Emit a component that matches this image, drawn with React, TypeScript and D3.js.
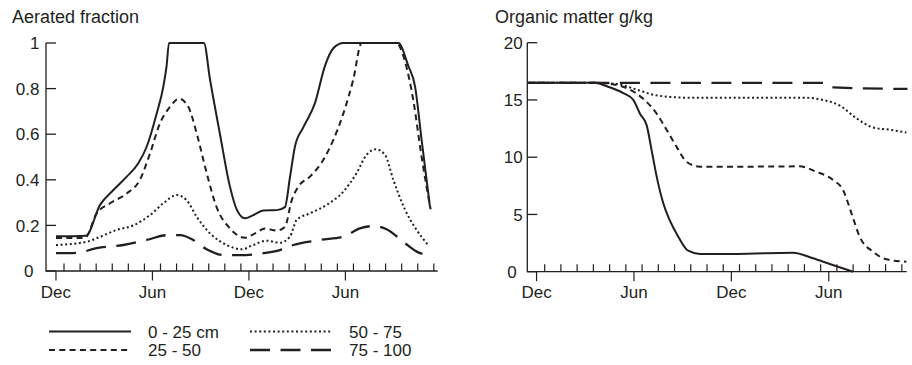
import React from "react";
import * as d3 from "d3";

// Months counted from the first December (0 = Dec, 6 = Jun, 12 = Dec, 18 = Jun)
const monthTicks = [0, 6, 12, 18];
const monthLabels = ["Dec", "Jun", "Dec", "Jun"];

// Aerated fraction by soil layer: [month, fraction]
const aer0to25: [number, number][] = [
  [0, 0.152], [1.87, 0.155], [2.74, 0.29], [3.57, 0.355], [4.4, 0.414], [5.1, 0.47],
  [5.64, 0.545], [6.26, 0.69], [6.68, 0.81], [6.88, 0.9], [7.03, 1.0], [9.2, 1.0],
  [9.58, 0.84], [10.2, 0.6], [10.82, 0.37], [11.24, 0.27], [11.75, 0.231], [12.27, 0.245],
  [12.9, 0.265], [13.73, 0.267], [14.24, 0.28], [14.55, 0.41], [14.86, 0.545], [15.38, 0.63],
  [16.1, 0.735], [16.73, 0.9], [17.25, 0.977], [17.87, 1.0], [21.29, 1.0], [21.91, 0.9],
  [22.33, 0.81], [22.74, 0.575], [23.26, 0.28],
];
const aer25to50: [number, number][] = [
  [0, 0.145], [1.8, 0.145], [2.53, 0.253], [3.36, 0.297], [4.4, 0.34], [5.22, 0.4],
  [5.85, 0.516], [6.47, 0.648], [7.09, 0.72], [7.65, 0.756], [8.23, 0.72], [8.75, 0.604],
  [9.37, 0.43], [9.99, 0.28], [10.82, 0.187], [11.75, 0.146], [12.38, 0.165], [13.0, 0.186],
  [13.73, 0.177], [14.24, 0.194], [14.66, 0.31], [15.07, 0.37], [15.8, 0.414], [16.62, 0.487],
  [17.25, 0.575], [17.87, 0.69], [18.49, 0.84], [19.01, 1.0], [21.18, 1.0], [21.7, 0.92],
  [22.22, 0.75], [22.74, 0.5], [23.3, 0.27],
];
const aer50to75: [number, number][] = [
  [0, 0.114], [1.9, 0.128], [2.74, 0.15], [3.77, 0.18], [4.81, 0.2], [5.85, 0.245],
  [6.68, 0.297], [7.51, 0.333], [8.13, 0.31], [8.75, 0.238], [9.58, 0.165], [10.62, 0.114],
  [11.55, 0.095], [12.27, 0.114], [13.1, 0.133], [13.93, 0.124], [14.55, 0.15], [14.97, 0.224],
  [15.8, 0.253], [16.83, 0.29], [17.87, 0.348], [18.7, 0.43], [19.32, 0.51], [19.9, 0.534],
  [20.46, 0.51], [20.98, 0.4], [21.7, 0.27], [22.43, 0.18], [23.15, 0.114],
];
const aer75to100: [number, number][] = [
  [0, 0.078], [1.29, 0.08], [2.53, 0.1], [4.19, 0.114], [5.64, 0.136], [6.88, 0.157],
  [7.71, 0.157], [8.54, 0.136], [9.37, 0.095], [10.4, 0.07], [11.44, 0.07], [12.9, 0.078],
  [13.93, 0.092], [14.76, 0.114], [16.42, 0.136], [17.87, 0.15], [18.9, 0.187], [19.73, 0.197],
  [20.56, 0.183], [21.6, 0.128], [22.43, 0.085], [23.15, 0.07],
];

// Organic matter (g/kg) by soil layer: [month, value]
const om0to25: [number, number][] = [
  [-0.5, 16.5], [3.5, 16.5], [4.52, 16.1], [5.34, 15.6], [5.96, 15.0], [6.37, 13.8],
  [6.78, 12.8], [7.09, 10.6], [7.4, 8.3], [7.8, 6.0], [8.2, 4.5], [8.73, 3.06],
  [9.34, 1.83], [10.06, 1.55], [12.3, 1.55], [15.8, 1.66], [17.03, 1.17], [18.06, 0.67],
  [19.5, 0],
];
const om25to50: [number, number][] = [
  [-0.5, 16.5], [3.5, 16.5], [4.52, 16.4], [5.75, 15.9], [6.57, 15.1], [7.4, 13.8],
  [8.01, 12.4], [8.63, 10.9], [9.24, 9.6], [10.06, 9.17], [12.3, 9.17], [16.2, 9.2],
  [17.24, 8.73], [18.27, 8.0], [18.88, 7.13], [19.4, 5.1], [19.9, 3.06], [20.72, 1.75],
  [21.55, 1.08], [22.78, 0.87],
];
const om50to75: [number, number][] = [
  [-0.5, 16.5], [3.5, 16.5], [4.93, 16.4], [6.17, 15.9], [7.4, 15.4], [9.24, 15.2],
  [16.42, 15.2], [17.65, 15.0], [18.68, 14.5], [19.7, 13.4], [20.72, 12.6], [21.75, 12.4],
  [22.78, 12.15],
];
const om75to100: [number, number][] = [
  [-0.5, 16.5], [17.65, 16.5], [18.27, 16.1], [22.85, 15.96],
];

const aeratedTicks = [0, 0.2, 0.4, 0.6, 0.8, 1];
const aeratedTickLabels = ["0", "0.2", "0.4", "0.6", "0.8", "1"];
const organicTicks = [0, 5, 10, 15, 20];
const organicTickLabels = ["0", "5", "10", "15", "20"];

const layerLabels = ["0 - 25 cm", "25 - 50", "50 - 75", "75 - 100"];

const INK = "#231f20";
const FONT = "'Liberation Sans', Arial, Helvetica, sans-serif";
const dashes = ["none", "6,4.3", "2,2.6", "20,10.5"];

type Series = [number, number][];

interface PanelProps {
  title: string;
  titleX: number;
  x0: number;
  x1: number;
  xDomain: [number, number];
  yTop: number;
  yBottom: number;
  yMax: number;
  yTicks: number[];
  yTickLabels: string[];
  labelEnd: number;
  series: Series[];
}

function Panel(p: PanelProps) {
  const x = d3.scaleLinear().domain(p.xDomain).range([p.x0, p.x1]);
  const y = d3.scaleLinear().domain([0, p.yMax]).range([p.yBottom, p.yTop]);
  const line = d3
    .line<[number, number]>()
    .x((d) => x(d[0]))
    .y((d) => y(d[1]))
    .curve(d3.curveMonotoneX);
  const minor = d3.range(0.5, p.xDomain[1], 1);
  return (
    <g>
      <text x={p.titleX} y={22.5} fontSize={18} fill={INK}>
        {p.title}
      </text>
      {p.series.map((s, i) => (
        <path
          key={i}
          d={line(s) || ""}
          fill="none"
          stroke={INK}
          strokeWidth={i === 3 ? 2.3 : 2}
          strokeDasharray={dashes[i]}
        />
      ))}
      {/* axes */}
      <path
        d={`M${p.x0},${y(p.yMax)}V${p.yBottom}H${p.x1}`}
        fill="none"
        stroke={INK}
        strokeWidth={1.3}
      />
      {p.yTicks.map((t, i) => (
        <g key={t}>
          <line x1={p.x0} x2={p.x0 + 10} y1={y(t)} y2={y(t)} stroke={INK} strokeWidth={1.3} />
          <text
            x={t === 0 ? p.labelEnd - 6 : p.labelEnd}
            y={y(t)}
            dy="0.36em"
            textAnchor="end"
            fontSize={17}
            fill={INK}
          >
            {p.yTickLabels[i]}
          </text>
        </g>
      ))}
      {minor.map((m) => (
        <line key={m} x1={x(m)} x2={x(m)} y1={p.yBottom} y2={p.yBottom - 7.5} stroke={INK} strokeWidth={1.2} />
      ))}
      {monthTicks.map((m, i) => (
        <g key={m}>
          <line x1={x(m)} x2={x(m)} y1={p.yBottom} y2={p.yBottom + 9.5} stroke={INK} strokeWidth={1.2} />
          <text x={x(m)} y={298} textAnchor="middle" fontSize={17} fill={INK}>
            {monthLabels[i]}
          </text>
        </g>
      ))}
    </g>
  );
}

export default function App() {
  const legendPos = [
    { x: 49, y: 331.5 },
    { x: 49, y: 350 },
    { x: 250, y: 331.5 },
    { x: 250, y: 350 },
  ];
  return (
    <svg
      width={912}
      height={365}
      style={{ position: "absolute", left: 0, top: 0, background: "#fff" }}
      fontFamily={FONT}
    >
      <Panel
        title="Aerated fraction"
        titleX={12}
        x0={46}
        x1={437.7}
        xDomain={[-0.62, 23.74]}
        yTop={43}
        yBottom={271}
        yMax={1}
        yTicks={aeratedTicks}
        yTickLabels={aeratedTickLabels}
        labelEnd={39.5}
        series={[aer0to25, aer25to50, aer50to75, aer75to100]}
      />
      <Panel
        title="Organic matter g/kg"
        titleX={495}
        x0={527.3}
        x1={906.7}
        xDomain={[-0.57, 22.8]}
        yTop={42.7}
        yBottom={271.7}
        yMax={20}
        yTicks={organicTicks}
        yTickLabels={organicTickLabels}
        labelEnd={522.7}
        series={[om0to25, om25to50, om50to75, om75to100]}
      />
      {layerLabels.map((lab, i) => (
        <g key={lab}>
          <line
            x1={legendPos[i].x}
            x2={legendPos[i].x + 82}
            y1={legendPos[i].y}
            y2={legendPos[i].y}
            stroke={INK}
            strokeWidth={i === 3 ? 2.5 : 2}
            strokeDasharray={dashes[i]}
          />
          <text
            x={legendPos[i].x + 99}
            y={legendPos[i].y}
            dy="0.36em"
            fontSize={17}
            fill={INK}
          >
            {lab}
          </text>
        </g>
      ))}
    </svg>
  );
}
